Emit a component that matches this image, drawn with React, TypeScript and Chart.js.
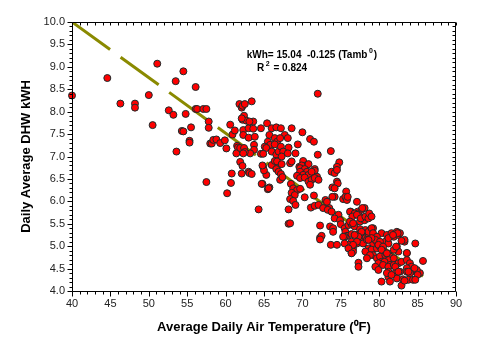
import React, { useEffect, useRef } from "react";
import { Chart, registerables } from "chart.js";

Chart.register(...registerables);

// Axis definitions
const xMin = 40;
const xMax = 90;
const xStep = 5;
const yMin = 4.0;
const yMax = 10.0;
const yStep = 0.5;

// Regression line end points (kWh = 15.04 - 0.125 * Tamb), as drawn
const fitTemps = [40.0, 85.7];
const fitKwh = [10.0, 4.33];

// Annotation text
const eqText = "kWh= 15.04  -0.125 (Tamb";
const eqSup = "0";
const eqTail = ")";
const r2Text = "R";
const r2Sup = "2";
const r2Tail = " = 0.824";
const eqAnchor = [62.75, 9.25];
const r2Anchor = [64.1, 8.96];

// Observed daily points: [average daily air temperature °F, daily DHW kWh]
const groupCool: number[][] = [
  [40.0, 8.36], [44.6, 8.75], [46.3, 8.18], [48.2, 8.18], [48.2, 8.09], [50.0, 8.37], [50.5, 7.70],
  [51.1, 9.07], [52.6, 8.03], [53.2, 7.93], [53.5, 8.68], [53.6, 7.11], [54.5, 8.90], [54.8, 7.95],
  [54.3, 7.57], [54.5, 7.56], [55.3, 7.35], [55.3, 7.31], [55.5, 7.65], [56.1, 8.55], [56.1, 8.06],
  [56.3, 8.06], [57.1, 8.06], [57.5, 8.06], [57.8, 7.78], [57.8, 7.64], [57.5, 6.43], [58.0, 7.29],
  [58.2, 7.29], [58.4, 7.37], [58.8, 7.38], [59.3, 7.30], [59.9, 7.36],
];

const groupMild: number[][] = [
  [60.1, 7.18], [60.2, 6.18], [60.7, 6.41], [60.6, 7.71], [60.9, 7.49], [61.2, 7.58], [60.8, 6.62],
  [61.5, 7.24], [61.6, 7.20], [61.4, 7.07], [61.9, 6.88], [62.2, 6.79], [62.1, 6.62], [63.0, 6.66],
  [61.8, 8.17], [62.1, 8.09], [62.2, 8.13], [62.5, 8.17], [63.4, 8.23], [62.2, 7.82], [62.4, 7.91],
  [62.7, 7.80], [62.1, 7.85], [63.6, 7.78], [62.3, 7.59], [63.0, 7.63], [63.6, 7.62], [63.1, 7.78],
  [62.3, 7.48], [63.0, 7.42], [63.8, 7.44], [61.9, 7.19], [62.4, 7.19], [63.7, 7.26], [63.7, 7.15],
  [63.2, 7.07], [62.5, 7.10], [62.3, 7.07], [63.1, 6.63], [63.4, 6.61], [64.3, 5.82], [64.8, 6.39],
  [65.5, 6.27], [65.7, 6.31], [65.3, 6.59], [64.9, 6.77], [65.0, 6.69], [64.6, 7.63], [65.4, 7.74],
  [66.0, 7.63], [66.6, 7.65], [65.7, 7.48], [65.5, 7.33], [65.8, 7.26], [65.1, 7.22], [65.3, 7.19],
  [66.4, 7.41], [66.7, 7.33], [64.6, 7.06], [64.9, 7.06], [66.0, 7.11], [66.6, 7.04], [66.9, 7.11],
  [64.8, 6.80], [66.0, 6.81], [66.4, 6.90], [66.9, 6.81], [64.7, 6.39], [65.6, 6.29], [66.6, 6.72],
  [66.9, 6.66], [66.4, 7.27], [66.7, 6.89],
];

const groupWarm: number[][] = [
  [72.0, 8.40], [67.2, 7.63], [68.6, 7.63], [70.0, 7.54], [71.0, 7.39], [71.5, 7.33], [67.7, 7.48],
  [68.1, 7.41], [67.1, 7.41], [69.4, 7.27], [67.2, 7.22], [68.2, 7.20], [67.5, 7.11], [67.3, 7.00],
  [68.1, 7.07], [69.1, 7.07], [72.0, 7.04], [73.7, 7.12], [74.8, 6.87], [67.3, 6.83], [68.4, 6.85],
  [68.6, 6.89], [70.1, 6.90], [70.6, 6.81], [70.8, 6.83], [71.6, 6.72], [74.5, 6.77], [69.6, 6.77],
  [69.9, 6.80], [67.3, 6.52], [67.1, 6.48], [67.2, 6.61], [67.4, 6.54], [69.7, 6.74], [70.3, 6.72],
  [70.6, 6.66], [71.6, 6.68], [73.8, 6.66], [74.2, 6.63], [74.5, 6.70], [69.7, 6.66], [70.1, 6.59],
  [70.8, 6.59], [71.2, 6.66], [71.9, 6.55], [69.3, 6.57], [69.7, 6.52], [70.3, 6.53], [70.8, 6.44],
  [71.2, 6.48], [71.0, 6.37], [71.6, 6.52], [72.1, 6.48], [68.5, 6.39], [68.8, 6.29], [69.3, 6.25],
  [69.7, 6.28], [70.3, 6.09], [68.6, 6.19], [69.0, 6.14], [68.4, 6.05], [68.8, 6.01], [69.1, 5.92],
  [68.2, 5.82], [68.2, 5.50], [68.4, 5.51], [71.5, 6.13], [71.1, 5.86], [71.6, 5.90], [72.1, 5.92],
  [73.0, 6.03], [72.7, 5.85], [73.5, 5.85], [73.2, 5.99], [73.3, 5.81], [73.9, 6.31], [74.5, 6.44],
  [74.6, 6.40], [74.2, 6.10], [73.9, 6.10], [74.2, 6.29], [73.8, 5.77], [74.7, 5.70], [74.2, 5.62],
  [74.9, 5.58], [72.3, 5.46], [73.6, 5.44], [74.0, 5.40], [72.3, 5.19], [72.5, 5.23], [72.3, 5.15],
  [73.7, 5.03], [74.5, 5.03], [74.0, 5.32],
];

const groupHot: number[][] = [
  [75.7, 6.22], [75.3, 6.05], [75.8, 6.07], [75.6, 6.10], [75.8, 6.03], [75.9, 6.10], [77.1, 5.99],
  [75.0, 5.49], [75.5, 5.40], [76.3, 5.77], [76.6, 5.71], [77.2, 5.77], [77.7, 5.81], [77.9, 5.62],
  [76.0, 5.47], [76.4, 5.49], [76.8, 5.44], [77.5, 5.55], [75.6, 5.32], [75.8, 5.23], [76.4, 5.27],
  [78.1, 5.85], [77.8, 5.85], [78.1, 5.58], [76.2, 5.77], [76.8, 5.73], [77.3, 5.70], [76.5, 5.66],
  [77.1, 5.70], [77.6, 5.62], [78.2, 5.66], [78.6, 5.62], [78.7, 5.73], [79.0, 5.66], [76.2, 5.55],
  [76.6, 5.51], [75.5, 5.21], [75.3, 5.21], [77.5, 5.38], [78.2, 5.36], [78.8, 5.35], [79.2, 5.40],
  [79.0, 5.29], [77.1, 5.25], [77.7, 5.21], [78.2, 5.18], [78.6, 5.21], [76.4, 5.10], [77.1, 5.06],
  [76.0, 5.03], [76.6, 4.95], [76.4, 4.85], [76.6, 4.88], [77.5, 5.12], [77.9, 5.06], [78.4, 5.14],
  [79.0, 5.14], [79.2, 5.06], [79.5, 5.18], [79.7, 5.10], [78.6, 4.95], [79.0, 4.92], [79.7, 4.95],
  [80.1, 4.99], [79.2, 4.80], [79.7, 4.73], [80.1, 4.77], [80.3, 4.65], [79.9, 4.62], [79.5, 4.54],
  [79.9, 4.47], [78.2, 4.88], [78.8, 4.80], [78.4, 4.73], [77.3, 4.63], [77.3, 4.54], [80.5, 4.92],
  [80.8, 4.80], [81.0, 4.84], [81.4, 4.77], [81.2, 4.69], [81.9, 4.73], [80.7, 4.65], [81.4, 4.58],
  [80.3, 5.29], [81.0, 5.25], [80.8, 5.10], [81.2, 5.06], [81.6, 5.29], [81.9, 5.21], [82.3, 5.32],
  [82.5, 5.25], [82.7, 5.29], [81.2, 5.18], [82.3, 4.99], [82.5, 4.88], [81.9, 4.92], [83.3, 5.10],
  [84.7, 5.06], [83.6, 4.84], [80.5, 4.58], [81.2, 4.54], [81.9, 4.58], [82.5, 4.62], [82.9, 4.65],
  [83.6, 4.69], [84.0, 4.62], [84.2, 4.54], [83.6, 4.51], [81.2, 4.43], [82.1, 4.40], [82.7, 4.43],
  [83.6, 4.43], [84.2, 4.43], [84.9, 4.43], [85.3, 4.40], [81.2, 4.31], [82.3, 4.28], [83.1, 4.26],
  [83.8, 4.25], [84.4, 4.25], [80.3, 4.21], [81.4, 4.21], [82.9, 4.12], [85.7, 4.67], [84.9, 4.47],
  [85.0, 4.36], [84.6, 4.51], [82.1, 4.54], [82.5, 4.43], [81.0, 4.40], [81.6, 4.36], [78.6, 5.32],
  [79.0, 5.40], [79.2, 5.29], [79.7, 5.21], [79.5, 5.14], [79.0, 5.18], [80.1, 5.10], [79.9, 5.03],
  [80.5, 4.99], [80.3, 4.92], [81.0, 4.84], [78.6, 5.14], [77.7, 5.32], [77.3, 5.21], [76.8, 5.25],
  [77.1, 5.10], [76.6, 5.03], [75.5, 5.06], [76.0, 4.95], [76.4, 4.84], [83.3, 5.14], [82.9, 5.12],
  [82.4, 5.29], [81.8, 5.25], [82.2, 4.99], [83.6, 4.85], [84.0, 4.40], [84.7, 4.25], [83.3, 4.23],
  [83.8, 4.43],
];

const FONT = "Arial, 'Liberation Sans', Helvetica, sans-serif";

const framePlugin = {
  id: "frameTicks",
  afterDraw(chart: any) {
    const { ctx, chartArea: a, scales } = chart;
    const x = scales.x;
    const y = scales.y;
    ctx.save();
    ctx.strokeStyle = "#000";
    ctx.lineWidth = 1;
    const L = Math.round(a.left) + 0.5;
    const R = Math.round(a.right) - 0.5;
    const T = Math.round(a.top) + 0.5;
    const B = Math.round(a.bottom) + 0.5;
    ctx.beginPath();
    ctx.rect(L, T, R - L, B - T);
    ctx.stroke();
    ctx.beginPath();
    for (let i = xMin; i <= xMax; i += 1) {
      const px = Math.round(x.getPixelForValue(i)) + 0.5;
      const len = i % xStep === 0 ? 5 : 3;
      ctx.moveTo(px, B);
      ctx.lineTo(px, B + len);
      ctx.moveTo(px, T);
      ctx.lineTo(px, T + 3);
    }
    for (let k = Math.round(yMin * 10); k <= Math.round(yMax * 10); k += 1) {
      const py = Math.round(y.getPixelForValue(k / 10)) + 0.5;
      const len = k % 5 === 0 ? 5 : 3;
      ctx.moveTo(L, py);
      ctx.lineTo(L - len, py);
      ctx.moveTo(R, py);
      ctx.lineTo(R - 3, py);
    }
    ctx.stroke();

    // equation annotation
    ctx.fillStyle = "#000";
    ctx.textBaseline = "middle";
    ctx.textAlign = "left";
    const drawSup = (ax: number[], main: string, sup: string, tail: string) => {
      const px = x.getPixelForValue(ax[0]);
      const py = y.getPixelForValue(ax[1]);
      ctx.font = `bold 10px ${FONT}`;
      ctx.fillText(main, px, py);
      let w = ctx.measureText(main).width;
      ctx.font = `bold 7px ${FONT}`;
      ctx.fillText(sup, px + w + 1.5, py - 5);
      w += ctx.measureText(sup).width + 1.5;
      ctx.font = `bold 10px ${FONT}`;
      ctx.fillText(tail, px + w + 1, py);
    };
    drawSup(eqAnchor, eqText, eqSup, eqTail);
    drawSup(r2Anchor, r2Text, r2Sup, r2Tail);
    ctx.restore();
  },
};

export default function App() {
  const ref = useRef<HTMLCanvasElement | null>(null);

  useEffect(() => {
    if (!ref.current) return;
    const points = [...groupCool, ...groupMild, ...groupWarm, ...groupHot].map((p) => ({ x: p[0], y: p[1] }));
    const fit = fitTemps.map((t, i) => ({ x: t, y: fitKwh[i] }));
    const chart = new Chart(ref.current, {
      type: "scatter",
      data: {
        datasets: [
          {
            label: "Daily",
            data: points,
            backgroundColor: "#ff0000",
            borderColor: "#1a2c2c",
            borderWidth: 1,
            pointRadius: 3.5,
            order: 0,
            clip: false as any,
          },
          {
            type: "line" as any,
            label: "Fit",
            data: fit,
            borderColor: "#8a8a00",
            borderWidth: 3,
            borderDash: [47, 13],
            pointRadius: 0,
            showLine: true,
            fill: false,
            order: 1,
            clip: 0 as any,
          },
        ],
      },
      options: {
        responsive: false,
        animation: false,
        events: [],
        layout: { padding: { left: 0, top: 22, right: 37, bottom: 0 } },
        plugins: { legend: { display: false }, tooltip: { enabled: false } },
        scales: {
          x: {
            type: "linear",
            min: xMin,
            max: xMax,
            border: { display: false },
            grid: { display: false, drawTicks: true, tickLength: 5 },
            ticks: {
              stepSize: xStep,
              autoSkip: false,
              maxRotation: 0,
              padding: 1,
              color: "#222",
              font: { family: FONT, size: 11 },
            },
            title: {
              display: true,
              text: "Average Daily Air Temperature (\u2070F)",
              color: "#000",
              font: { family: FONT, size: 13, weight: "bold" },
              padding: { top: 0, bottom: 20 },
            },
            afterFit: (s: any) => {
              s.height = 64;
            },
          },
          y: {
            type: "linear",
            min: yMin,
            max: yMax,
            border: { display: false },
            grid: { display: false, drawTicks: true, tickLength: 5 },
            ticks: {
              stepSize: yStep,
              autoSkip: false,
              padding: 2,
              color: "#222",
              font: { family: FONT, size: 11 },
              callback: (v: any) => Number(v).toFixed(1),
            },
            title: {
              display: true,
              text: "Daily Average DHW kWH",
              color: "#000",
              font: { family: FONT, size: 13, weight: "bold" },
              padding: { top: 19, bottom: 0 },
            },
            afterFit: (s: any) => {
              s.width = 72;
            },
          },
        },
      },
      plugins: [framePlugin],
    });
    return () => chart.destroy();
  }, []);

  return (
    <div style={{ position: "fixed", left: 0, top: 0, width: 493, height: 355, background: "#fff" }}>
      <canvas ref={ref} width={493} height={355} />
    </div>
  );
}
